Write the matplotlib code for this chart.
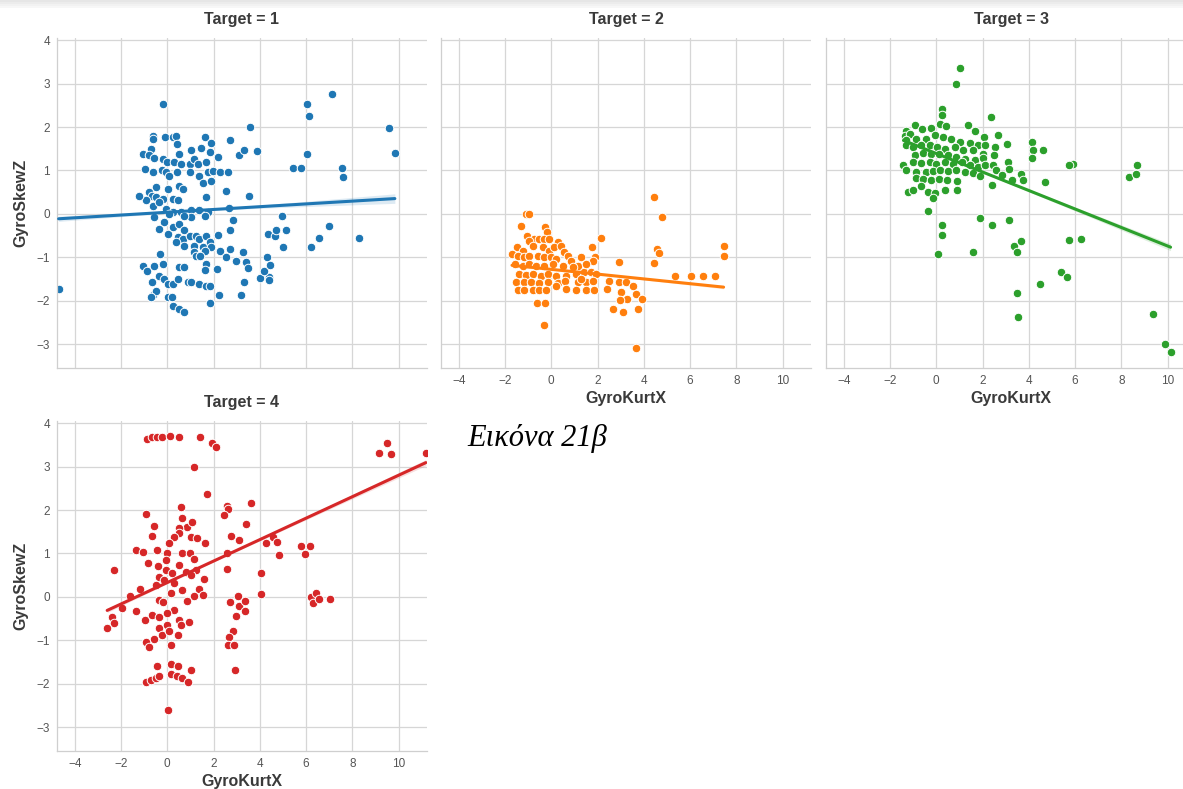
import numpy as np
import pandas as pd
import matplotlib
matplotlib.use("Agg")
import matplotlib.pyplot as plt
from matplotlib.patches import Rectangle
import seaborn as sns

sns.set_theme(style="whitegrid")
plt.rcParams["font.family"] = ["Liberation Sans", "DejaVu Sans"]

targets = [1, 2, 3, 4]
palette = ["#1f77b4", "#ff7f0e", "#2ca02c", "#d62728"]
x_ticks = [-4, -2, 0, 2, 4, 6, 8, 10]
y_ticks = [-3, -2, -1, 0, 1, 2, 3, 4]
x_label = "GyroKurtX"
y_label = "GyroSkewZ"
caption = "Εικόνα 21β"

# fitted regression per target: intercept and slope of GyroSkewZ on GyroKurtX
fit_intercept = [0.037, -1.278, 1.39, 0.33]
fit_slope = [0.032, -0.055, -0.213, 0.247]
# half-width of the confidence band at the centre, left end and right end of the fit
band_mid = [0.02, 0.015, 0.02, 0.02]
band_left = [0.06, 0.04, 0.04, 0.05]
band_right = [0.11, 0.04, 0.08, 0.07]

# (GyroKurtX, GyroSkewZ) samples for each target class
points_t1 = [
    (-0.2, 2.52), (-4.7, -1.73),
    (-0.64, 1.8), (-0.64, 1.73), (-0.1, 1.77), (0.23, 1.77), (0.38, 1.8), (0.42, 1.62),
    (-0.71, 1.5), (-1.04, 1.38), (-0.78, 1.35), (-0.57, 1.28), (-0.2, 1.27), (0.0, 1.19),
    (0.3, 1.2), (0.52, 1.38), (0.59, 1.15), (-0.97, 1.04), (-0.64, 0.96), (-0.23, 1.02),
    (-0.06, 0.96), (0.09, 0.88), (0.42, 0.96), (1.03, 1.46), (0.96, 1.15), (1.17, 1.27),
    (1.32, 1.14), (1.46, 1.52), (1.64, 1.77), (1.87, 1.64), (1.86, 1.42), (2.19, 1.31),
    (1.68, 1.19), (1.75, 0.96), (1.97, 0.98), (2.26, 0.96), (2.62, 0.96), (0.96, 0.96),
    (1.39, 0.88), (1.54, 0.72), (1.91, 0.75), (2.7, 1.71), (3.1, 1.36), (3.32, 1.46),
    (3.59, 2.01), (3.9, 1.45),
    (-0.49, 0.62), (-0.78, 0.5), (-0.68, 0.42), (-0.93, 0.32), (-0.49, 0.38), (-0.2, 0.35),
    (0.01, 0.58), (0.23, 0.35), (0.45, 0.31), (0.52, 0.65), (0.67, 0.58), (-0.64, 0.19),
    (-0.35, 0.27), (-0.06, 0.12), (0.23, 0.04), (0.59, 0.04), (-0.57, -0.08), (1.03, 0.08),
    (1.39, 0.08), (1.75, 0.04), (1.68, 0.38), (2.55, 0.52), (2.67, 0.13), (3.54, 0.4),
    (1.03, -0.08), (1.64, -0.04), (0.74, -0.04), (0.09, 0.0), (-1.22, 0.41),
    (-0.13, -0.19), (-0.35, -0.35), (0.01, -0.46), (0.23, -0.31), (0.52, -0.23), (0.74, -0.38),
    (0.45, -0.54), (0.67, -0.58), (0.96, -0.5), (1.25, -0.5), (1.39, -0.58), (1.68, -0.5),
    (0.38, -0.65), (0.74, -0.73), (1.17, -0.73), (1.54, -0.77), (1.83, -0.65), (1.9, -0.77),
    (2.19, -0.48), (2.26, -0.85), (2.7, -0.81), (2.84, -0.15), (2.7, -0.37), (1.17, -0.88),
    (1.61, -0.85), (2.55, -1.0), (2.99, -1.08), (3.28, -0.88), (3.42, -1.12), (3.49, -1.25),
    (1.25, -0.96), (1.68, -1.15), (1.42, -0.96),
    (-0.3, -0.92), (-1.07, -1.19), (-0.86, -1.31), (-0.59, -1.19), (-0.2, -1.15), (-0.67, -1.58),
    (-0.35, -1.42), (-0.13, -1.5), (0.01, -1.62), (0.23, -1.62), (0.45, -1.5), (0.52, -1.23),
    (0.71, -1.23), (0.88, -1.56), (1.03, -1.58), (1.39, -1.62), (1.68, -1.65), (1.83, -1.65),
    (1.65, -1.29), (2.14, -1.27), (-0.64, -1.88), (-0.49, -1.77), (-0.71, -1.92), (0.01, -1.91),
    (0.2, -1.91), (0.23, -2.13), (0.52, -2.18), (0.74, -2.27), (1.86, -2.05), (2.22, -1.88),
    (3.19, -1.86), (3.32, -1.58), (3.99, -1.47), (4.4, -1.46), (4.4, -1.52), (4.19, -1.32),
    (4.33, -1.0), (4.43, -1.17),
    (4.36, -0.47), (4.65, -0.52), (4.7, -0.37), (4.94, -0.06), (5.13, -0.38), (5.01, -0.77),
    (5.45, 1.06), (5.77, 1.06), (6.03, 2.52), (6.12, 2.25), (6.03, 1.38), (6.2, -0.77),
    (6.57, -0.55), (6.99, -0.27), (7.14, 2.75), (7.55, 1.06), (7.59, 0.85), (8.3, -0.56),
    (9.59, 1.98), (9.84, 1.41),
]

points_t2 = [
    (-1.1, 0.0), (-0.95, 0.0), (-1.31, -0.29), (-0.26, -0.31), (-0.2, -0.42),
    (-1.05, -0.52), (-0.74, -0.58), (-0.52, -0.59), (-0.3, -0.58), (-0.09, -0.58), (0.27, -0.64),
    (-0.95, -0.62), (-1.5, -0.77), (-1.24, -0.85), (-0.81, -0.75), (-0.38, -0.77), (-0.09, -0.85),
    (0.13, -0.77), (0.42, -0.75), (0.56, -0.88),
    (-1.7, -0.92), (-1.46, -0.96), (-1.17, -1.0), (-0.95, -0.98), (-0.59, -0.98), (-0.3, -1.0),
    (-0.01, -1.0), (0.2, -1.04), (0.71, -0.96), (1.28, -1.0),
    (-1.56, -1.15), (-1.24, -1.19), (-0.95, -1.15), (-0.66, -1.19), (-0.3, -1.19), (0.06, -1.15),
    (0.49, -1.19), (0.85, -1.09), (1.14, -1.19),
    (-1.39, -1.38), (-1.1, -1.41), (-0.81, -1.38), (-0.45, -1.42), (-0.16, -1.38), (0.2, -1.42),
    (0.63, -1.42), (1.07, -1.38), (1.43, -1.35), (1.72, -1.35), (1.93, -1.38),
    (-1.53, -1.58), (-1.17, -1.56), (-0.88, -1.58), (-0.52, -1.59), (-0.16, -1.58), (0.27, -1.6),
    (0.61, -1.54), (1.14, -1.56), (1.5, -1.58), (1.79, -1.54),
    (-1.46, -1.75), (-1.17, -1.75), (-0.81, -1.75), (-0.52, -1.75), (-0.23, -1.75), (0.2, -1.67),
    (0.63, -1.73), (1.07, -1.75), (1.5, -1.75), (1.86, -1.75),
    (-0.63, -2.05), (-0.27, -2.06), (-0.3, -2.56),
    (1.75, -0.77), (1.89, -1.0), (2.15, -0.55), (1.79, -1.08), (0.92, -1.23), (1.28, -1.5),
    (1.5, -1.15),
    (2.94, -1.12), (2.51, -1.54), (2.94, -1.56), (3.23, -1.58), (3.52, -1.65), (2.41, -1.73),
    (3.0, -1.81), (3.29, -1.96), (2.97, -1.98), (3.67, -1.85), (3.91, -1.96), (3.74, -2.18),
    (2.66, -2.18), (3.09, -2.27), (3.67, -3.09),
    (4.42, 0.38), (4.79, -0.08), (4.56, -0.82), (4.65, -0.9), (4.43, -1.13),
    (5.37, -1.42), (6.02, -1.44), (6.55, -1.42), (7.06, -1.42), (7.45, -0.73), (7.45, -0.98),
]

points_t3 = [
    (1.04, 3.36), (0.87, 2.98), (0.26, 2.41), (0.26, 2.27), (2.36, 2.22),
    (-1.33, 1.9), (-0.9, 2.04), (-0.61, 1.95), (-0.22, 1.98), (0.14, 2.08), (0.43, 2.02),
    (1.35, 2.05), (1.66, 1.9), (2.06, 1.78), (2.68, 1.82), (3.07, 1.62),
    (-1.37, 1.79), (-1.13, 1.85), (-0.87, 1.73), (-0.43, 1.73), (-0.07, 1.81), (0.29, 1.77),
    (0.65, 1.73), (1.01, 1.65), (1.45, 1.64), (1.82, 1.58), (2.11, 1.59), (2.53, 1.54),
    (-1.3, 1.69), (-1.3, 1.58), (-1.01, 1.54), (-0.65, 1.58), (-0.29, 1.58), (0.03, 1.54),
    (0.36, 1.5), (0.8, 1.54), (1.16, 1.46), (1.59, 1.46), (2.03, 1.38), (2.5, 1.35),
    (-0.94, 1.35), (-0.58, 1.41), (-0.22, 1.38), (0.12, 1.38), (0.51, 1.35), (0.87, 1.31),
    (1.23, 1.27), (1.66, 1.25), (2.03, 1.28),
    (-1.42, 1.13), (-1.01, 1.19), (-0.65, 1.18), (-0.29, 1.19), (0.0, 1.15), (0.36, 1.19),
    (0.72, 1.15), (1.09, 1.19), (1.45, 1.12), (1.82, 1.08), (2.11, 1.12), (2.46, 1.12),
    (3.11, 1.19), (3.15, 1.04),
    (-1.3, 1.0), (-0.87, 0.96), (-0.46, 0.96), (-0.14, 0.98), (0.14, 1.0), (0.51, 0.98),
    (0.87, 1.0), (1.23, 0.96), (1.59, 0.95), (1.88, 0.88), (2.6, 1.0), (2.82, 0.9),
    (3.26, 0.78), (3.65, 0.92), (3.73, 0.79),
    (-0.87, 0.82), (-0.58, 0.81), (-0.22, 0.77), (0.12, 0.81), (0.46, 0.77), (0.9, 0.75),
    (2.39, 0.67),
    (-1.23, 0.5), (-1.01, 0.56), (-0.65, 0.65), (-0.36, 0.5), (-0.07, 0.48), (0.36, 0.54),
    (0.9, 0.54), (-0.14, 0.36),
    (4.12, 1.65), (4.17, 1.46), (4.12, 1.28), (4.63, 1.48), (4.7, 0.73), (5.93, 1.14),
    (5.72, 1.12), (8.32, 0.85), (8.65, 0.92), (8.68, 1.13),
    (-0.36, 0.06), (0.25, -0.25), (0.25, -0.48), (0.07, -0.92), (1.59, -0.87), (1.88, -0.1),
    (2.42, -0.25), (3.15, -0.15), (3.36, -0.75), (3.65, -0.63), (3.5, -0.87), (5.75, -0.6),
    (6.27, -0.59), (5.38, -1.33), (5.67, -1.45), (4.49, -1.62), (3.5, -1.82), (3.55, -2.38),
    (9.38, -2.31), (9.88, -3.0), (10.13, -3.19),
]

points_t4 = [
    (-0.87, 3.64), (-0.65, 3.68), (-0.43, 3.68), (-0.22, 3.68), (0.1, 3.71), (0.5, 3.69),
    (1.41, 3.69), (1.95, 3.55), (2.09, 3.46), (1.15, 2.98), (1.73, 2.36),
    (9.16, 3.32), (9.52, 3.54), (9.67, 3.29), (11.18, 3.31),
    (0.58, 2.08), (2.57, 2.09), (2.64, 2.02), (2.45, 1.88), (3.64, 2.17),
    (-0.94, 1.91), (-0.58, 1.64), (0.62, 1.81), (0.84, 1.62), (1.05, 1.73), (3.39, 1.68),
    (-0.65, 1.41), (0.5, 1.58), (0.5, 1.46), (0.29, 1.38), (1.01, 1.38), (1.3, 1.35),
    (1.62, 1.25), (2.74, 1.4), (3.1, 1.32), (4.26, 1.25), (4.59, 1.38), (4.75, 1.27),
    (4.83, 0.96), (5.76, 1.17), (5.95, 0.98), (6.18, 1.17),
    (-1.37, 1.09), (-1.05, 1.04), (-0.43, 1.09), (0.0, 1.02), (0.07, 1.23), (0.62, 1.0),
    (0.98, 1.0), (1.15, 0.88), (2.57, 1.02), (2.6, 0.65), (-0.82, 0.78), (-0.39, 0.71),
    (-0.07, 0.85), (0.5, 0.73), (-2.31, 0.62), (-0.07, 0.62), (0.22, 0.54), (0.79, 0.58),
    (1.23, 0.62), (1.59, 0.42), (1.01, 0.5), (-0.36, 0.46), (-0.14, 0.38), (4.04, 0.55),
    (4.04, 0.06),
    (-1.62, 0.02), (-1.2, 0.18), (-0.48, 0.27), (0.29, 0.31), (0.65, 0.15), (1.37, 0.19),
    (1.54, 0.04), (1.15, 0.02), (0.14, 0.08), (-0.36, -0.08), (-0.19, -0.12), (0.29, -0.31),
    (0.84, -0.09), (-1.95, -0.25), (-1.37, -0.32), (-2.38, -0.46), (-2.31, -0.6), (-2.6, -0.71),
    (-0.98, -0.54), (-0.65, -0.42), (-0.36, -0.46), (0.0, -0.38), (0.5, -0.54), (0.58, -0.65),
    (0.94, -0.58), (-0.36, -0.71), (0.0, -0.65), (-0.58, -0.98), (-0.94, -1.04), (-0.79, -1.15),
    (-0.22, -0.88), (0.07, -0.78), (0.46, -0.88), (0.14, -1.12),
    (2.71, -0.12), (3.07, 0.02), (3.1, -0.22), (3.35, -0.09), (3.38, -0.32), (2.99, -0.45),
    (2.86, -0.78), (2.67, -0.92), (2.64, -1.12), (2.89, -1.12), (2.94, -1.69),
    (6.2, 0.0), (6.42, 0.08), (6.31, -0.14), (6.54, -0.04), (7.04, -0.05),
    (-0.43, -1.6), (0.14, -1.55), (0.46, -1.6), (1.01, -1.68), (-0.94, -1.96), (-0.72, -1.92),
    (-0.5, -1.88), (-0.36, -1.83), (0.14, -1.78), (0.43, -1.83), (0.62, -1.88), (0.91, -1.95),
    (0.03, -2.6),
]

frames = []
for t, pts in zip(targets, [points_t1, points_t2, points_t3, points_t4]):
    arr = np.array(pts)
    frames.append(pd.DataFrame({x_label: arr[:, 0], y_label: arr[:, 1], "Target": t}))
df = pd.concat(frames, ignore_index=True)

W, H = 1183, 789
fig = plt.figure(figsize=(W / 100, H / 100), dpi=100)
fig.patch.set_facecolor("white")

# faint shading strip along the top edge
for i, c in enumerate(["#e6e6e6", "#ececec", "#f2f2f2", "#f7f7f7"]):
    fig.add_artist(Rectangle((0, 1 - (i + 1) * 2 / H), 1, 2 / H,
                             transform=fig.transFigure, color=c, lw=0, zorder=0))

panel_w, panel_h = 370, 330
panel_pos = {1: (57, 38), 2: (441, 38), 3: (826, 38), 4: (57, 421)}
xlim = (-4.77, 11.23)
ylim = (-3.55, 4.05)
text_color = "#3a3a3a"
tick_color = "#555555"

for i, (t, color) in enumerate(zip(targets, palette)):
    left, top = panel_pos[t]
    ax = fig.add_axes([left / W, 1 - (top + panel_h) / H, panel_w / W, panel_h / H])
    sub = df[df["Target"] == t]
    xs, ys = sub[x_label].to_numpy(), sub[y_label].to_numpy()
    ax.scatter(xs, ys, s=38, color=color, edgecolor="white", linewidths=0.7, zorder=2)

    # regression line over the data range with its confidence band
    x0, x1, xc = xs.min(), xs.max(), xs.mean()
    grid = np.linspace(x0, x1, 200)
    fit = fit_intercept[i] + fit_slope[i] * grid
    rel = np.where(grid < xc, (grid - xc) / (x0 - xc), (grid - xc) / (x1 - xc))
    end = np.where(grid < xc, band_left[i], band_right[i])
    half = np.sqrt(band_mid[i] ** 2 + (end ** 2 - band_mid[i] ** 2) * rel ** 2)
    ax.fill_between(grid, fit - half, fit + half, color=color, alpha=0.15, lw=0, zorder=3)
    ax.plot(grid, fit, color=color, lw=2.2, zorder=4)

    ax.set_xlim(xlim)
    ax.set_ylim(ylim)
    ax.set_xticks(x_ticks)
    ax.set_yticks(y_ticks)
    ax.grid(True, color="#d6d6d6", lw=0.9)
    ax.set_axisbelow(True)
    for side in ["top", "right"]:
        ax.spines[side].set_visible(False)
    for side in ["left", "bottom"]:
        ax.spines[side].set_color("#cfcfcf")
        ax.spines[side].set_linewidth(0.9)
    ax.tick_params(length=0, labelsize=8.5, labelcolor=tick_color, pad=5)
    ax.set_title(f"Target = {t}", fontsize=11.5, fontweight="bold", color=text_color, pad=10)
    if t in (1, 4):
        ax.set_ylabel(y_label, fontsize=11.5, fontweight="bold", color=text_color, labelpad=6)
    else:
        ax.tick_params(labelleft=False)
    if t == 1:
        ax.tick_params(labelbottom=False)
    else:
        ax.set_xlabel(x_label, fontsize=11.5, fontweight="bold", color=text_color, labelpad=3)

fig.text(467 / W, 1 - 446 / H, caption, family="Liberation Serif", style="italic",
         fontsize=22, color="black", va="baseline", ha="left")

fig.savefig("out.png", dpi=100)
